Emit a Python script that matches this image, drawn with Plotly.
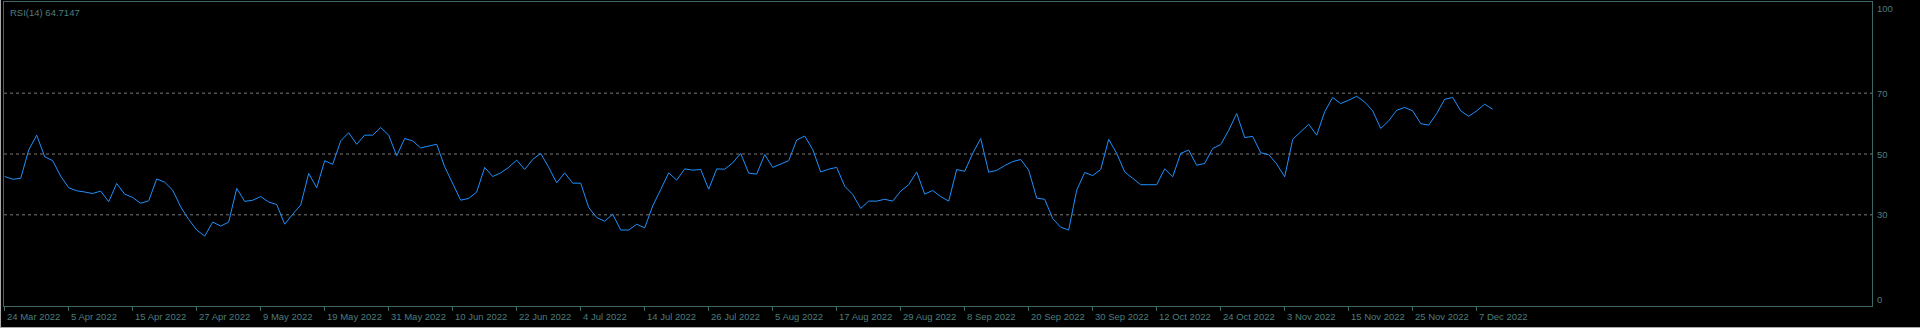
import plotly.graph_objects as go

# RSI(14) values, one per trading day starting 24 Mar 2022
rsi = [
    42.6, 41.7, 42.0, 51.3, 56.2, 49.1, 47.8, 42.7, 38.9, 37.9,
    37.5, 37.0, 37.8, 34.3, 40.3, 36.8, 35.7, 33.8, 34.6, 41.8,
    40.7, 38.1, 32.6, 28.5, 25.0, 23.0, 27.6, 26.3, 27.6, 38.7,
    34.4, 34.8, 36.0, 34.2, 33.4, 26.9, 30.2, 33.2, 43.6, 38.9,
    47.8, 46.6, 54.3, 57.0, 53.2, 56.2, 56.2, 58.7, 56.2, 49.4,
    55.1, 54.3, 52.0, 52.6, 53.2, 45.8, 40.1, 34.8, 35.4, 37.5,
    45.6, 42.6, 43.8, 45.6, 48.0, 44.9, 48.2, 50.2, 45.6, 40.5,
    43.8, 40.4, 40.4, 32.4, 29.1, 27.9, 30.2, 25.0, 25.0, 26.9,
    25.7, 32.9, 38.3, 43.8, 41.4, 45.1, 44.7, 44.9, 38.4, 45.1,
    45.0, 47.1, 50.2, 43.7, 43.4, 49.8, 45.6, 46.7, 47.8, 54.6,
    55.9, 51.5, 44.1, 45.0, 45.6, 39.4, 36.7, 32.1, 34.5, 34.5,
    35.1, 34.5, 37.8, 39.9, 44.1, 36.8, 38.0, 36.0, 34.5, 44.9,
    44.3, 50.2, 55.1, 44.0, 44.6, 46.2, 47.5, 48.2, 44.7, 35.5,
    35.1, 28.8, 25.9, 25.0, 38.1, 43.9, 42.9, 44.9, 54.8, 50.2,
    44.1, 42.0, 39.9, 39.9, 39.9, 45.1, 42.5, 50.2, 51.3, 46.3,
    46.9, 51.8, 53.1, 57.8, 63.3, 55.4, 55.8, 50.4, 49.8, 46.7,
    42.5, 54.8, 57.3, 59.8, 56.2, 63.9, 68.6, 66.6, 67.7, 69.0,
    67.1, 64.2, 58.4, 60.9, 64.4, 65.3, 64.2, 60.0, 59.5, 63.3,
    68.0, 68.6, 64.2, 62.4, 64.2, 66.4, 64.7147,
]

# date labels, one every 8 bars
tick_labels = [
    "24 Mar 2022", "5 Apr 2022", "15 Apr 2022", "27 Apr 2022", "9 May 2022",
    "19 May 2022", "31 May 2022", "10 Jun 2022", "22 Jun 2022", "4 Jul 2022",
    "14 Jul 2022", "26 Jul 2022", "5 Aug 2022", "17 Aug 2022", "29 Aug 2022",
    "8 Sep 2022", "20 Sep 2022", "30 Sep 2022", "12 Oct 2022", "24 Oct 2022",
    "3 Nov 2022", "15 Nov 2022", "25 Nov 2022", "7 Dec 2022",
]
label_step = 8

levels = [30, 50, 70]
y_labels = [100, 70, 50, 30, 0]
indicator_name = "RSI(14)"

FRAME = "#3e6868"
TEXT = "#4f7d7d"
FONT = "Liberation Sans"

W, H = 1920, 328
ML, MR, MT, MB = 4, 48, 2, 22
plot_w = W - ML - MR

x = list(range(len(rsi)))
tickvals = [i * label_step for i in range(len(tick_labels))]

fig = go.Figure()
fig.add_trace(go.Scatter(
    x=x, y=rsi, mode="lines",
    line=dict(color="#1E90FF", width=1),
    hoverinfo="skip", showlegend=False,
))

x0 = -0.7 / 8
x1 = x0 + plot_w / 8

shapes = []
for lv in levels:
    shapes.append(dict(type="line", xref="paper", yref="y", x0=0, x1=1, y0=lv, y1=lv,
                       line=dict(color="#7a7a7a", width=1, dash="3px,3px"), layer="below"))
# window border (light) on left and bottom
shapes.append(dict(type="line", xref="paper", yref="paper",
                   x0=-(ML - 0.5) / plot_w, x1=-(ML - 0.5) / plot_w,
                   y0=-MB / (H - MT - MB), y1=1 + MT / (H - MT - MB),
                   line=dict(color="#a8a8a8", width=1)))
shapes.append(dict(type="line", xref="paper", yref="paper",
                   x0=-ML / plot_w, x1=1 + MR / plot_w,
                   y0=-(MB - 0.5) / (H - MT - MB), y1=-(MB - 0.5) / (H - MT - MB),
                   line=dict(color="#a8a8a8", width=1)))

annotations = []
for tv, lab in zip(tickvals, tick_labels):
    annotations.append(dict(x=tv, y=0, xref="x", yref="paper", text=lab, showarrow=False,
                            xanchor="left", yanchor="top", xshift=0, yshift=-3,
                            font=dict(family=FONT, size=9.5, color=TEXT)))
for yl in y_labels:
    shift = 0
    if yl == 100:
        shift = -6
    elif yl == 0:
        shift = 7
    annotations.append(dict(x=1, y=yl, xref="paper", yref="y", text=str(yl), showarrow=False,
                            xanchor="left", yanchor="middle", xshift=3, yshift=shift,
                            font=dict(family=FONT, size=9.5, color=TEXT)))
annotations.append(dict(x=0, y=1, xref="paper", yref="paper",
                        text=f"{indicator_name} {rsi[-1]:.4f}", showarrow=False,
                        xanchor="left", yanchor="top", xshift=4, yshift=-3,
                        font=dict(family=FONT, size=9.5, color=TEXT)))

fig.update_layout(
    width=W, height=H,
    margin=dict(l=ML, r=MR, t=MT, b=MB, pad=0),
    paper_bgcolor="#000000", plot_bgcolor="#000000",
    shapes=shapes, annotations=annotations,
    xaxis=dict(range=[x0, x1], showgrid=False, zeroline=False,
               showline=True, linecolor=FRAME, linewidth=1, mirror=True,
               tickmode="array", tickvals=tickvals, ticktext=[""] * len(tickvals),
               ticks="outside", ticklen=4, tickcolor=FRAME, tickwidth=1),
    yaxis=dict(range=[0, 100], showgrid=False, zeroline=False,
               showline=True, linecolor=FRAME, linewidth=1, mirror=True,
               showticklabels=False, ticks=""),
)

fig.write_html("out.html")
